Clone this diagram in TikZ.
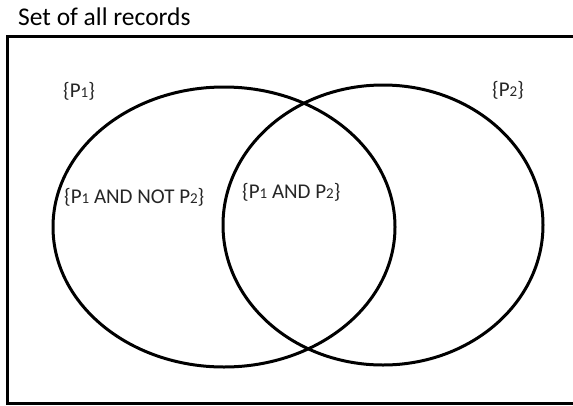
\documentclass[tikz,border=0pt]{standalone}
\usepackage{fontspec}
\setmainfont{Carlito}
\newcommand{\psub}[1]{{\fontsize{15}{15}\selectfont #1}}

\begin{document}
\begin{tikzpicture}[x=1pt,y=-1pt]
		\tikzstyle{every node}+=[inner sep=0pt]
		\tikzstyle{setlabel}=[anchor=base west, text=black!85, font=\fontsize{21}{21}\selectfont]
		\useasboundingbox (0,0) rectangle (573,405);
		\draw (18,25) node [anchor=base west, font=\fontsize{25.5}{25.5}\selectfont] (title) {Set of all records};
		\draw [black, line width=3pt] (575,36) -- (7,36) -- (7,403) -- (575,403);
		\draw [black, line width=3pt] (224,227) ellipse (171 and 140);
		\draw [black, line width=3pt] (383,225) ellipse (160 and 140);
		\draw (63,97) node [setlabel] (pone) {\{P\psub{1}\}};
		\draw (492,96) node [setlabel] (ptwo) {\{P\psub{2}\}};
		\draw (64,203) node [setlabel] (ponly) {\{P\psub{1} AND NOT P\psub{2}\}};
		\draw (242,198) node [setlabel] (pboth) {\{P\psub{1} AND P\psub{2}\}};
	\end{tikzpicture}
\end{document}
